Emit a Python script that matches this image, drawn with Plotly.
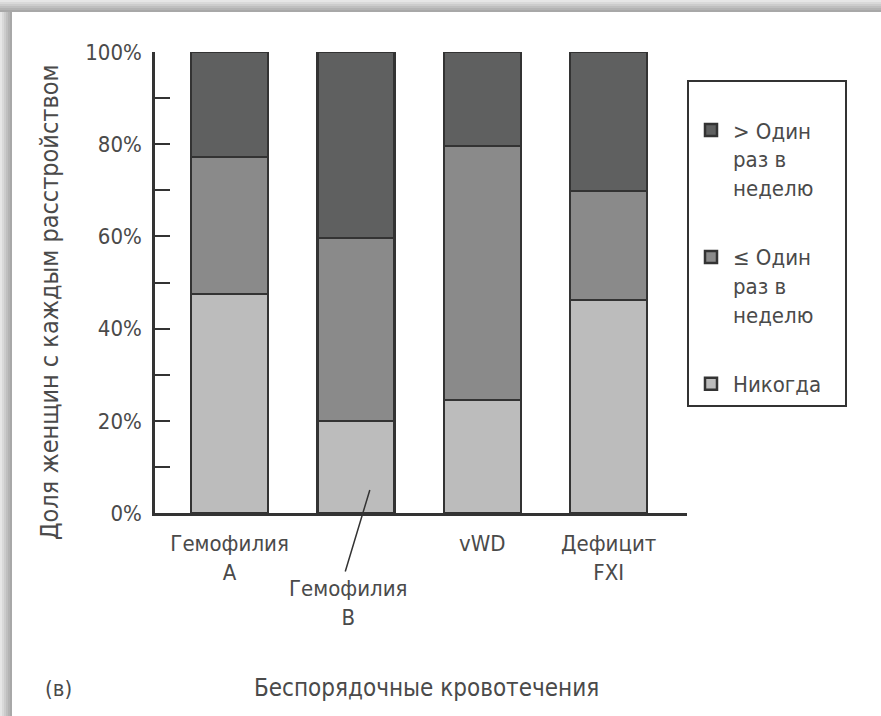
import plotly.graph_objects as go

categories = ["Гемофилия<br>A", "Гемофилия<br>B", "vWD", "Дефицит<br>FXI"]
never = [0.475, 0.20, 0.245, 0.462]
le_once = [0.297, 0.397, 0.551, 0.236]
gt_once = [0.228, 0.403, 0.204, 0.302]
series_names = ["Никогда\u00a0\u00a0\u00a0", "≤ Один<br>раз в<br>неделю", "> Один<br>раз в<br>неделю"]
y_ticks = [0, 0.2, 0.4, 0.6, 0.8, 1.0]
y_ticklabels = ["0%", "20%", "40%", "60%", "80%", "100%"]
x_title = "Беспорядочные кровотечения"
y_title = "Доля женщин с каждым расстройством"
panel_label = "(в)"

FONT = "DejaVu Sans Condensed, DejaVu Sans, sans-serif"
FS = 22
TXT = "#4a4a4a"
colors = ["#bcbcbc", "#8a8a8a", "#5f6060"]

W, H = 881, 716
L, R, T, B = 155, 687, 52, 513

fig = go.Figure()
for rank, (name, vals, col) in enumerate(zip(series_names, [never, le_once, gt_once], colors)):
    fig.add_trace(go.Bar(
        x=categories, y=vals, name=name, width=0.61,
        marker=dict(color=col, line=dict(color="#333333", width=2.5)),
        legendgroup=name, legendrank=1000 - rank,
    ))

ticktext = [c if i != 1 else "" for i, c in enumerate(categories)]

fig.update_layout(
    width=W, height=H,
    barmode="stack",
    paper_bgcolor="#c4c4c4", plot_bgcolor="white",
    margin=dict(l=L, r=W - R, t=T, b=H - B),
    font=dict(family=FONT, size=FS, color=TXT),
    showlegend=True,
    legend=dict(
        x=1.0, xanchor="left", y=(B - 80) / (B - T), yanchor="top",
        traceorder="grouped", tracegroupgap=38,
        bordercolor="#333333", borderwidth=2, bgcolor="white",
        font=dict(family=FONT, size=FS, color=TXT),
        title=dict(text=" ", font=dict(size=21)),
        itemwidth=34, valign="top",
    ),
    xaxis=dict(
        range=[-0.59, 3.62], showline=True, linecolor="#333333", linewidth=2.5,
        tickvals=categories, ticktext=ticktext, ticks="",
        ticklabelstandoff=9, showgrid=False, zeroline=False,
    ),
    yaxis=dict(
        range=[0, 1], tickvals=y_ticks, ticktext=y_ticklabels,
        showline=True, linecolor="#333333", linewidth=2.5,
        ticks="inside", ticklen=15, tickwidth=2, tickcolor="#333333",
        minor=dict(ticks="inside", ticklen=15, tickwidth=2, tickcolor="#333333", dtick=0.1, showgrid=False),
        showgrid=False, zeroline=False, ticklabelstandoff=6,
    ),
)

# Hemophilia B label with pointer line
fig.add_annotation(
    x=1.11, y=0.05, xref="x", yref="y",
    text="", showarrow=True, arrowhead=0, arrowwidth=1.5,
    arrowcolor="#333333", ax=-25, ay=83,
)
fig.add_annotation(
    x=0.94, y=(B - 603) / (B - T), xref="x", yref="paper",
    xanchor="center", yanchor="middle",
    text="Гемофилия<br>B", showarrow=False, font=dict(family=FONT, size=FS, color=TXT),
)
fig.add_annotation(
    x=0.51, y=(B - 688) / (B - T), xref="paper", yref="paper",
    xanchor="center", yanchor="middle",
    text=x_title, showarrow=False, font=dict(family=FONT, size=24, color=TXT),
)
fig.add_annotation(
    x=(58 - L) / (R - L), y=(B - 688) / (B - T), xref="paper", yref="paper",
    xanchor="center", yanchor="middle",
    text=panel_label, showarrow=False, font=dict(family=FONT, size=FS, color=TXT),
)
fig.add_annotation(
    x=(49 - L) / (R - L), y=(B - 303) / (B - T), xref="paper", yref="paper",
    xanchor="center", yanchor="middle",
    text=y_title, textangle=-90, showarrow=False, font=dict(family=FONT, size=25, color=TXT),
)

# card frame: white card over grey paper, with gradient shadow bands
def px_x(p):
    return (p - L) / (R - L)

def px_y(p):
    return (B - p) / (B - T)

fig.add_shape(type="rect", xref="paper", yref="paper", layer="below",
              x0=px_x(12), x1=px_x(W + 5), y0=px_y(12), y1=px_y(H + 5),
              fillcolor="white", line=dict(width=0))
shades = ["#e6e6e6", "#d9d9d9", "#cccccc", "#bfbfbf", "#b3b3b3", "#a8a8a8"]
for i, c in enumerate(shades):
    fig.add_shape(type="rect", xref="paper", yref="paper", layer="below",
                  x0=px_x(0), x1=px_x(W), y0=px_y(2 * i), y1=px_y(2 * i + 2),
                  fillcolor=c, line=dict(width=0))
    fig.add_shape(type="rect", xref="paper", yref="paper", layer="below",
                  x0=px_x(2 * i), x1=px_x(2 * i + 2), y0=px_y(2 * i), y1=px_y(H),
                  fillcolor=c, line=dict(width=0))

fig.write_html(
    "out.html",
    config={"displayModeBar": False},
    post_script=(
        "document.documentElement.style.margin='0';"
        "document.documentElement.style.overflow='hidden';"
        "document.body.style.margin='0';document.body.style.padding='0';"
        "document.body.style.overflow='hidden';window.scrollTo(0,0);"
    ),
)
